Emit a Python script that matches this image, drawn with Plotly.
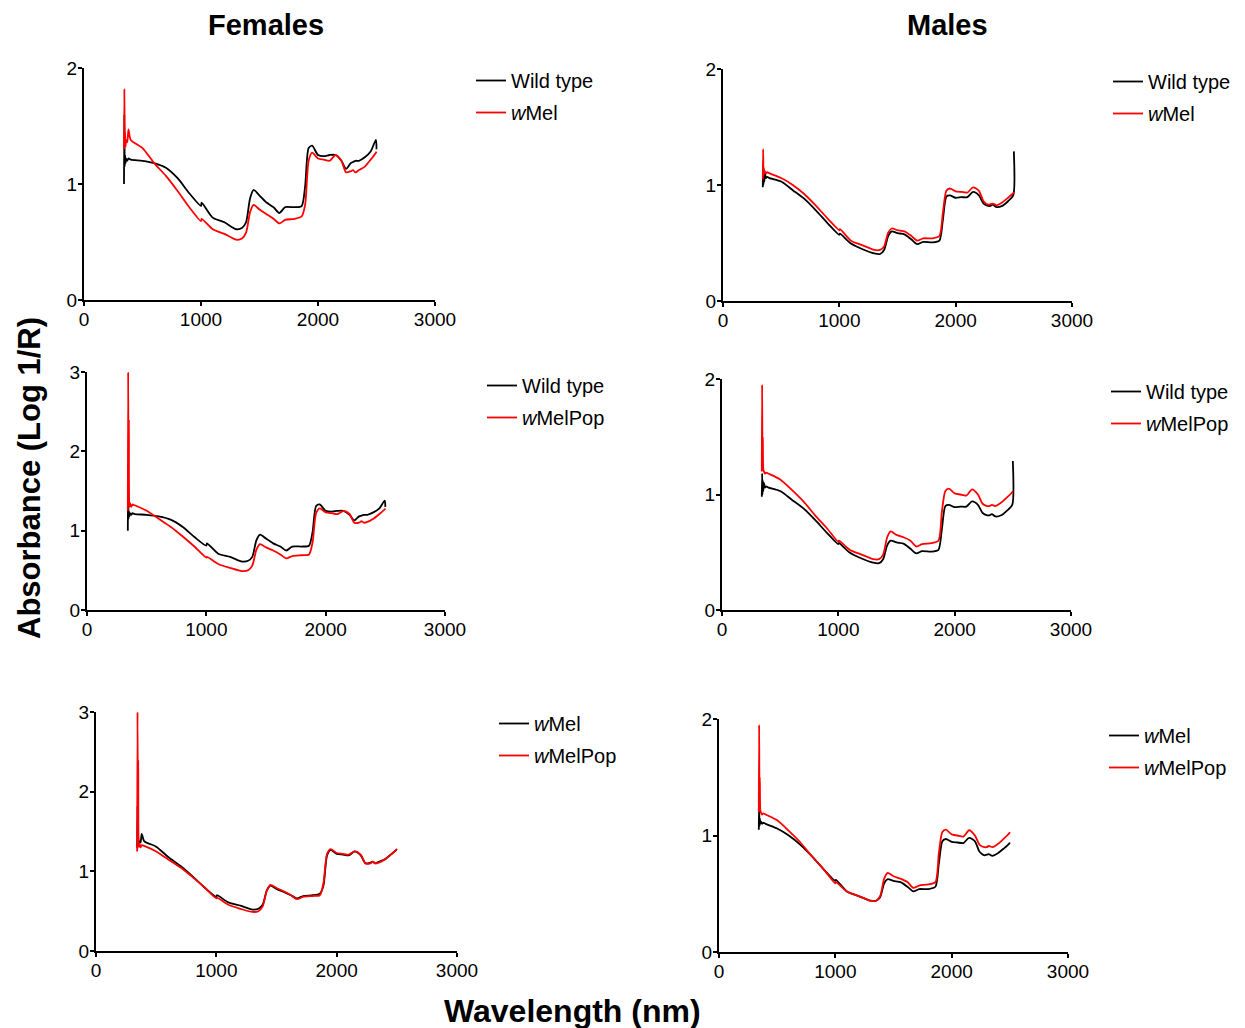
import plotly.graph_objects as go

# page body has an 8px default margin; the figure is sized to fill the rest of the window
PAGE_OFF = 8
W, H = 1245 - PAGE_OFF, 1028 - PAGE_OFF

# wavelength grid (nm)
WL = [342, 345, 348, 351, 355, 360, 370, 380, 400, 500, 600, 700, 800, 900, 1000, 1005,
      1100, 1200, 1300, 1350, 1385, 1420, 1450, 1500, 1560, 1620, 1670, 1720, 1800, 1860,
      1890, 1920, 1950, 2000, 2050, 2100, 2150, 2200, 2240, 2280, 2300, 2320, 2350, 2400,
      2450, 2495, 2500]

# Females
FEM_WILD = [1.00, 1.60, 1.15, 1.25, 1.18, 1.22, 1.20, 1.22, 1.21, 1.20, 1.18, 1.14, 1.05, 0.92, 0.81, 0.84,
            0.71, 0.67, 0.61, 0.62, 0.67, 0.88, 0.95, 0.90, 0.84, 0.80, 0.75, 0.80, 0.80, 0.81,
            0.98, 1.31, 1.33, 1.25, 1.24, 1.25, 1.25, 1.20, 1.13, 1.18, 1.19, 1.20, 1.20, 1.23,
            1.28, 1.38, 1.30]
FEM_WMEL = [1.30, 1.82, 1.35, 1.45, 1.32, 1.38, 1.36, 1.47, 1.38, 1.31, 1.18, 1.07, 0.94, 0.80, 0.68, 0.70,
            0.61, 0.57, 0.52, 0.53, 0.58, 0.76, 0.82, 0.78, 0.74, 0.70, 0.66, 0.69, 0.70, 0.72,
            0.82, 1.20, 1.27, 1.22, 1.21, 1.20, 1.25, 1.20, 1.10, 1.11, 1.12, 1.10, 1.12, 1.15,
            1.21, 1.27, 1.28]
FEM_WMELPOP = [1.25, 3.00, 1.60, 2.40, 1.30, 1.35, 1.30, 1.33, 1.32, 1.25, 1.15, 1.05, 0.93, 0.80, 0.66, 0.67,
               0.58, 0.53, 0.49, 0.50, 0.56, 0.76, 0.83, 0.79, 0.75, 0.70, 0.65, 0.68, 0.69, 0.70,
               0.85, 1.22, 1.28, 1.23, 1.22, 1.21, 1.25, 1.21, 1.10, 1.10, 1.12, 1.10, 1.11, 1.15,
               1.21, 1.27, 1.28]

# Males
MAL_WILD = [0.98, 1.18, 1.00, 1.12, 1.03, 1.10, 1.06, 1.07, 1.06, 1.03, 0.955, 0.88, 0.78, 0.67, 0.57, 0.58,
            0.495, 0.446, 0.41, 0.405, 0.44, 0.56, 0.60, 0.585, 0.575, 0.53, 0.49, 0.51, 0.505, 0.52,
            0.70, 0.90, 0.91, 0.89, 0.895, 0.895, 0.94, 0.91, 0.84, 0.82, 0.82, 0.83, 0.81, 0.82,
            0.86, 0.91, 1.29]
MAL_WMEL = [1.05, 1.31, 1.08, 1.15, 1.10, 1.12, 1.10, 1.11, 1.10, 1.06, 1.00, 0.92, 0.82, 0.71, 0.61, 0.62,
            0.52, 0.48, 0.44, 0.44, 0.47, 0.59, 0.625, 0.61, 0.60, 0.56, 0.52, 0.54, 0.54, 0.56,
            0.76, 0.95, 0.97, 0.945, 0.94, 0.935, 0.98, 0.95, 0.86, 0.83, 0.835, 0.84, 0.825, 0.85,
            0.89, 0.93, 0.94]
MAL_WMELPOP = [1.20, 1.95, 1.30, 1.50, 1.22, 1.20, 1.18, 1.19, 1.18, 1.13, 1.04, 0.94, 0.82, 0.71, 0.59, 0.60,
               0.52, 0.48, 0.44, 0.44, 0.48, 0.63, 0.68, 0.65, 0.63, 0.60, 0.55, 0.57, 0.58, 0.60,
               0.85, 1.03, 1.05, 1.01, 1.00, 0.99, 1.045, 1.00, 0.92, 0.90, 0.90, 0.91, 0.90, 0.93,
               0.975, 1.02, 1.03]

X_TICKS = [0, 1000, 2000, 3000]
NAME_WILD = "Wild type"
NAME_WMEL = "<i>w</i>Mel"
NAME_WMELPOP = "<i>w</i>MelPop"

FONT = "Arial, 'Liberation Sans', Helvetica, sans-serif"


def px_x(px):
    return (px - PAGE_OFF) / W


def px_y(py):
    return 1 - (py - PAGE_OFF) / H


# panel layout: (pixel box left, right, top, bottom), ymax, series, legend text-left x, first item y
panels = [
    dict(box=(84, 435, 68, 300), ymax=2,
         series=[(NAME_WILD, FEM_WILD, "black"), (NAME_WMEL, FEM_WMEL, "red")], leg=(511, 81)),
    dict(box=(723, 1072, 69, 301), ymax=2,
         series=[(NAME_WILD, MAL_WILD, "black"), (NAME_WMEL, MAL_WMEL, "red")], leg=(1148, 82)),
    dict(box=(87, 445, 372, 610), ymax=3,
         series=[(NAME_WILD, FEM_WILD, "black"), (NAME_WMELPOP, FEM_WMELPOP, "red")], leg=(522, 386)),
    dict(box=(722, 1071, 379, 610), ymax=2,
         series=[(NAME_WILD, MAL_WILD, "black"), (NAME_WMELPOP, MAL_WMELPOP, "red")], leg=(1146, 392)),
    dict(box=(96, 457, 712, 951), ymax=3,
         series=[(NAME_WMEL, FEM_WMEL, "black"), (NAME_WMELPOP, FEM_WMELPOP, "red")], leg=(534, 724)),
    dict(box=(719, 1068, 719, 952), ymax=2,
         series=[(NAME_WMEL, MAL_WMEL, "black"), (NAME_WMELPOP, MAL_WMELPOP, "red")], leg=(1144, 736)),
]

fig = go.Figure()
layout = dict(
    width=W, height=H,
    margin=dict(l=0, r=0, t=0, b=0, autoexpand=False),
    paper_bgcolor="white", plot_bgcolor="white",
    font=dict(family=FONT, color="black", size=19),
    showlegend=True,
)

axis_keys = []
for i, p in enumerate(panels, start=1):
    sfx = "" if i == 1 else str(i)
    legname = "legend" if i == 1 else f"legend{i}"
    for k, (name, vals, col) in enumerate(p["series"]):
        fig.add_trace(go.Scatter(
            x=WL, y=vals, mode="lines", name=name,
            line=dict(color=col, width=1.8, shape="spline", smoothing=0.7),
            xaxis=f"x{sfx}", yaxis=f"y{sfx}", legend=legname, legendgroup=f"g{i}_{k}",
        ))
    l, r, t, b = p["box"]
    axcommon = dict(showline=True, linecolor="black", linewidth=2, ticks="outside",
                    ticklen=4, tickwidth=2, tickcolor="black", showgrid=False, zeroline=False,
                    tickfont=dict(family=FONT, size=19, color="black"))
    layout[f"xaxis{sfx}"] = dict(domain=[px_x(l), px_x(r)], range=[0, 3000], tickvals=X_TICKS,
                                 anchor=f"y{sfx}", **axcommon)
    layout[f"yaxis{sfx}"] = dict(domain=[px_y(b), px_y(t)], range=[0, p["ymax"]],
                                 tickvals=list(range(p["ymax"] + 1)), anchor=f"x{sfx}", **axcommon)
    axis_keys += [(f"xaxis{sfx}", -3), (f"yaxis{sfx}", -3)]
    lx, ly = p["leg"]
    layout[legname] = dict(x=px_x(lx - 40), y=px_y(ly - 20), xanchor="left", yanchor="top",
                           bgcolor="rgba(0,0,0,0)", itemwidth=30, tracegroupgap=3,
                           font=dict(family=FONT, size=20, color="black"))

annotations = [
    dict(text="<b>Females</b>", x=266, y=25),
    dict(text="<b>Males</b>", x=947, y=25),
    dict(text="<b>Absorbance (Log 1/R)</b>", x=30, y=478, textangle=-90, size=31),
    dict(text="<b>Wavelength (nm)</b>", x=572, y=1011, size=32),
]
layout["annotations"] = [
    dict(text=a["text"], x=px_x(a["x"]), y=px_y(a["y"]), xref="paper", yref="paper",
         xanchor="center", yanchor="middle", showarrow=False, textangle=a.get("textangle", 0),
         font=dict(family=FONT, size=a.get("size", 29), color="black"))
    for a in annotations
]
fig.update_layout(**layout)

# pull tick labels slightly closer to the axes (if supported)
for key, standoff in axis_keys:
    try:
        fig.layout[key].ticklabelstandoff = standoff
    except Exception:
        pass

fig.write_html("out.html")
